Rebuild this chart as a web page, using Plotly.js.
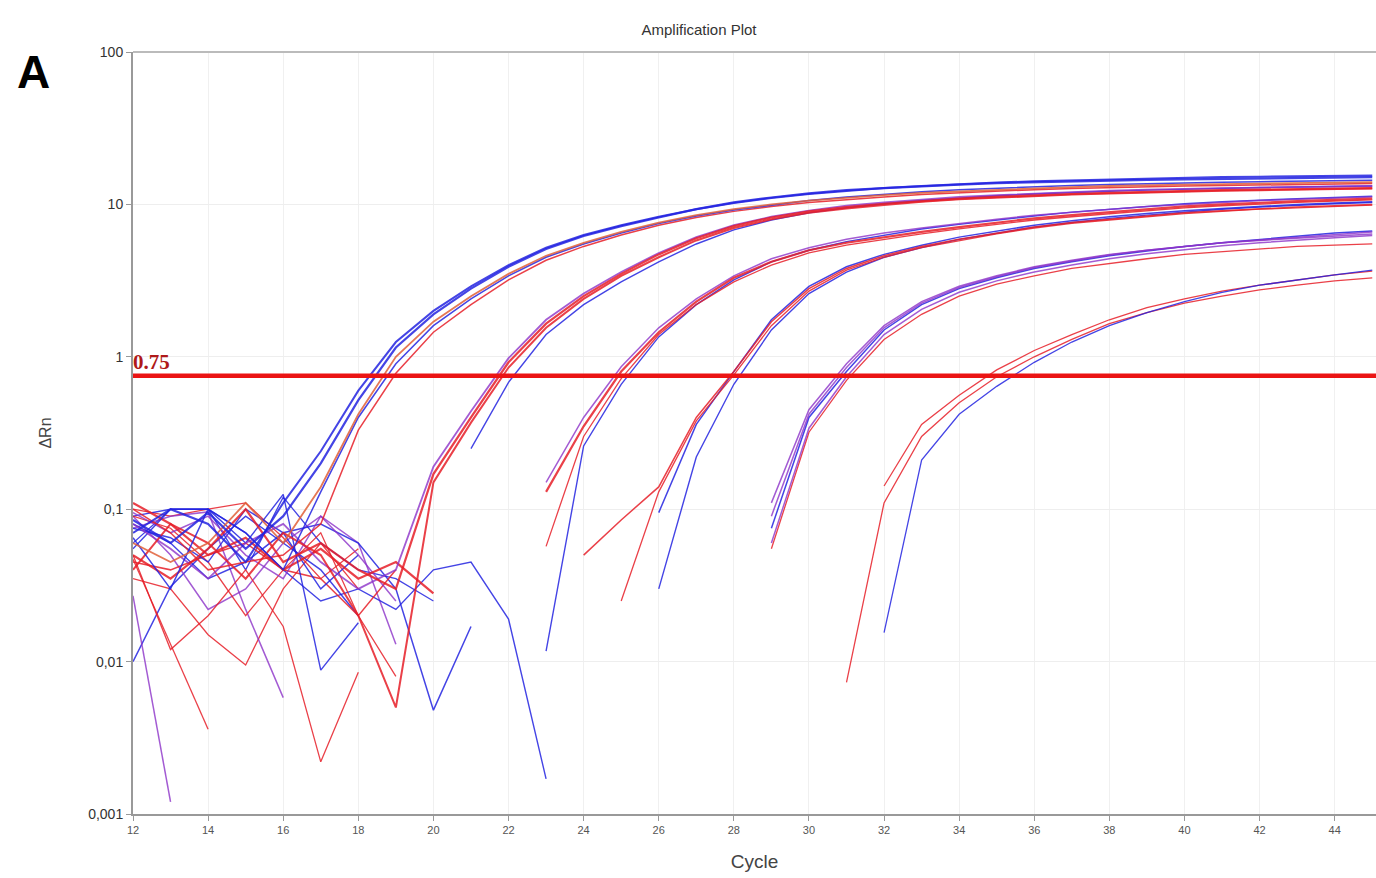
<!DOCTYPE html>
<html>
<head>
<meta charset="utf-8">
<script src="https://cdn.plot.ly/plotly-3.0.1.min.js"></script>
<style>html,body{margin:0;padding:0;background:#fff;}#chart{width:1376px;height:878px;}</style>
</head>
<body>
<div id="chart"></div>
<script>
// ---------- data ----------
const cycles = [12,13,14,15,16,17,18,19,20,21,22,23,24,25,26,27,28,29,30,31,32,33,34,35,36,37,38,39,40,41,42,43,44,45];
const threshold = 0.75;
const yTickVals = [0.001, 0.01, 0.1, 1, 10, 100];
const yTickText = ['0,001', '0,01', '0,1', '1', '10', '100'];
const xTickVals = [12,14,16,18,20,22,24,26,28,30,32,34,36,38,40,42,44];
const _ = null;

// group 1 (Ct ~18.5)
const g1b1 = [0.085,0.06,0.095,0.055,0.09,0.2,0.52,1.15,1.9, 2.8,3.9,5.1,6.2,7.2,8.2,9.3,10.3,11.1,11.8, 12.4,12.8,13.2,13.5,13.8,14.0,14.2,14.4,14.5,14.6,14.7,14.8,14.9,15.0,15.1];
const g1b2 = [0.07,0.1,0.08,0.045,0.11,0.24,0.6,1.25,2.0, 2.9,4.0,5.2,6.3,7.3,8.3,9.3,10.2,11.0,11.7, 12.3,12.8,13.2,13.6,13.9,14.2,14.4,14.6,14.8,15.0,15.1,15.2,15.3,15.4,15.5];
const g1b3 = [0.065,0.03,0.1,0.07,0.04,0.13,0.4,0.9,1.6, 2.4,3.4,4.5,5.5,6.5,7.5,8.4,9.2,9.9,10.6, 11.2,11.7,12.1,12.5,12.8,13.1,13.3,13.5,13.7,13.9,14.0,14.1,14.2,14.3,14.4];
const g1r1 = [0.06,0.045,0.06,0.11,0.06,0.14,0.42,1.0,1.7, 2.5,3.5,4.6,5.6,6.6,7.6,8.5,9.3,10.0,10.6, 11.1,11.5,11.9,12.2,12.5,12.8,13.0,13.2,13.4,13.5,13.6,13.7,13.8,13.9,14.0];
const g1r2 = [0.1,0.07,0.04,0.045,0.05,0.08,0.33,0.78,1.45, 2.2,3.2,4.3,5.3,6.3,7.3,8.2,9.0,9.7,10.3, 10.8,11.2,11.6,11.9,12.2,12.5,12.7,12.9,13.1,13.2,13.3,13.4,13.5,13.6,13.7];
// group 2 (Ct ~21.8)
const g2r1 = [0.05,0.035,0.055,0.1,0.045,0.06,0.04,0.03,0.17, 0.4,0.92,1.65,2.5,3.5,4.7,6.0,7.2,8.2,9.0, 9.6,10.1,10.5,10.9,11.2,11.5,11.7,11.9,12.1,12.3,12.4,12.5,12.6,12.7,12.8];
const g2r2 = [0.04,0.08,0.06,0.035,0.07,0.05,0.02,0.005,0.15, 0.37,0.85,1.55,2.4,3.4,4.5,5.8,7.0,8.0,8.8, 9.4,9.9,10.4,10.8,11.1,11.4,11.6,11.8,12.0,12.2,12.3,12.4,12.5,12.6,12.7];
const g2p1 = [0.08,0.055,0.035,0.06,0.08,0.045,0.03,0.04,0.19, 0.44,0.98,1.75,2.6,3.6,4.8,6.1,7.3,8.3,9.1, 9.8,10.3,10.8,11.2,11.5,11.8,12.1,12.3,12.5,12.7,12.8,12.9,13.0,13.1,13.2];
const g2b1 = [0.055,0.1,0.1,0.06,0.125,0.0088,0.018,_,_, 0.25,0.68,1.4,2.2,3.1,4.2,5.5,6.8,7.9,8.8, 9.5,10.1,10.6,11.0,11.4,11.7,12.0,12.2,12.4,12.6,12.8,12.9,13.0,13.1,13.2];
// group 3 (Ct ~25)
const g3r1 = [0.11,0.08,0.05,0.065,0.04,0.055,0.035,0.045,0.028, _,_,0.13,0.35,0.8,1.45,2.3,3.3,4.2,5.0, 5.6,6.1,6.6,7.1,7.6,8.1,8.5,8.9,9.3,9.7,10.0,10.3,10.5,10.7,10.9];
const g3r2 = [0.05,0.012,0.02,0.04,0.017,0.0022,0.0085,_,_, _,_,0.057,0.3,0.72,1.4,2.2,3.1,4.0,4.8, 5.4,5.9,6.4,6.9,7.4,7.9,8.3,8.7,9.1,9.5,9.8,10.1,10.3,10.5,10.7];
const g3b1 = [0.075,0.065,0.045,0.1,0.07,0.03,0.05,_,_, _,_,0.0117,0.26,0.66,1.35,2.2,3.2,4.2,5.0, 5.7,6.3,6.9,7.4,7.9,8.4,8.9,9.3,9.7,10.1,10.4,10.7,10.9,11.1,11.3];
const g3b2 = [0.095,0.07,0.09,0.05,0.035,0.09,0.05,0.025,_, _,_,0.15,0.4,0.86,1.55,2.4,3.4,4.4,5.2, 5.9,6.5,7.0,7.5,8.0,8.5,8.9,9.3,9.7,10.0,10.3,10.6,10.8,11.0,11.2];
// group 4 (Ct ~28)
const g4b1 = [0.09,0.1,0.1,0.07,0.04,0.025,0.03,0.022,0.04, 0.045,0.019,0.0017,_,_,0.03,0.22,0.66,1.5,2.6, 3.6,4.5,5.2,5.9,6.5,7.1,7.6,8.1,8.5,8.9,9.3,9.6,9.9,10.1,10.3];
const g4b2 = [0.08,0.06,0.035,0.045,0.07,0.08,0.06,0.03,0.0048, 0.017,_,_,_,_,0.095,0.36,0.8,1.75,2.9, 3.9,4.7,5.4,6.1,6.7,7.3,7.8,8.3,8.7,9.1,9.4,9.7,10.0,10.2,10.4];
const g4r1 = [0.045,0.04,0.05,0.06,0.04,0.035,0.02,0.04,_, _,_,_,0.05,0.085,0.14,0.4,0.8,1.7,2.8, 3.8,4.6,5.3,5.9,6.5,7.1,7.6,8.0,8.4,8.8,9.1,9.4,9.6,9.8,10.0];
const g4r2 = [0.09,0.075,0.045,0.02,0.04,0.07,0.02,0.008,_, _,_,_,_,0.025,0.13,0.38,0.76,1.6,2.7, 3.7,4.5,5.2,5.8,6.4,7.0,7.5,7.9,8.3,8.7,9.0,9.3,9.5,9.7,9.9];
// group 5 (Ct ~31)
const g5b1 = [0.01,0.031,0.055,0.09,0.06,0.04,0.02,_,_, _,_,_,_,_,_,_,_,0.075,0.4, 0.8,1.5,2.2,2.8,3.3,3.8,4.2,4.6,4.95,5.3,5.6,5.9,6.2,6.5,6.7];
const g5p1 = [0.027,0.0012,_,_,_,_,_,_,_, _,_,_,_,_,_,_,_,0.09,0.42, 0.85,1.55,2.25,2.85,3.35,3.85,4.25,4.65,5.0,5.3,5.6,5.85,6.1,6.35,6.6];
const g5p2 = [0.075,0.09,0.096,0.022,0.0058,_,_,_,_, _,_,_,_,_,_,_,_,0.11,0.45, 0.9,1.6,2.3,2.9,3.4,3.9,4.3,4.7,5.0,5.3,5.6,5.8,6.0,6.2,6.4];
const g5r1 = [0.047,0.013,0.0036,_,_,_,_,_,_, _,_,_,_,_,_,_,_,0.055,0.32, 0.7,1.3,1.9,2.5,3.0,3.4,3.8,4.1,4.4,4.7,4.9,5.1,5.3,5.4,5.5];
const g5b2 = [0.09,0.05,0.022,0.03,0.06,0.09,0.06,0.013,_, _,_,_,_,_,_,_,_,0.06,0.34, 0.74,1.4,2.05,2.65,3.15,3.6,4.0,4.4,4.75,5.05,5.35,5.6,5.85,6.05,6.25];
// group 6 (Ct ~35)
const g6r1 = [0.035,0.03,0.015,0.0095,0.03,0.06,0.03,_,_, _,_,_,_,_,_,_,_,_,_, 0.0073,0.11,0.3,0.5,0.74,1.0,1.3,1.65,1.95,2.25,2.5,2.75,2.95,3.15,3.3];
const g6r2 = [0.1,0.09,0.1,0.11,0.065,0.035,0.055,_,_, _,_,_,_,_,_,_,_,_,_, _,0.142,0.36,0.56,0.82,1.1,1.4,1.75,2.1,2.4,2.7,2.95,3.2,3.45,3.65];
const g6b1 = [0.06,0.1,0.1,0.04,0.12,0.06,0.04,0.035,0.025, _,_,_,_,_,_,_,_,_,_, _,0.0155,0.21,0.42,0.64,0.92,1.25,1.6,1.95,2.3,2.65,2.95,3.2,3.45,3.7];

// ---------- styling ----------
const COL = {
  b: 'rgba(35,35,225,0.85)',
  r: 'rgba(230,30,40,0.85)',
  p: 'rgba(140,50,200,0.8)',
  o: 'rgba(225,95,55,0.85)'
};
const series = [
  [g6r1,'r',1.3],[g6r2,'r',1.3],[g6b1,'b',1.3],
  [g5b1,'b',1.5],[g5p1,'p',1.5],[g5p2,'p',1.5],[g5r1,'r',1.3],[g5b2,'p',1.5],
  [g4b1,'b',1.4],[g4b2,'b',1.5],[g4r1,'r',1.5],[g4r2,'r',1.3],
  [g3b1,'b',1.4],[g3b2,'p',1.5],[g3r2,'r',1.3],[g3r1,'r',2.2],
  [g2b1,'b',1.4],[g2p1,'p',1.8],[g2r2,'r',2.0],[g2r1,'r',2.2],
  [g1r2,'r',1.5],[g1b3,'b',1.5],[g1r1,'o',1.8],[g1b2,'b',2.0],[g1b1,'b',2.2]
];

const traces = series.map(([y, c, w]) => ({
  x: cycles, y: y, type: 'scatter', mode: 'lines',
  line: {color: COL[c], width: w}, connectgaps: false,
  hoverinfo: 'skip', showlegend: false
}));
traces.push({
  x: [cycles[0], cycles[cycles.length - 1] + 0.1], y: [threshold, threshold],
  type: 'scatter', mode: 'lines', line: {color: 'rgb(235,20,20)', width: 4.5},
  hoverinfo: 'skip', showlegend: false
});

const layout = {
  width: 1376, height: 878,
  margin: {l: 133, r: 0, t: 52, b: 64},
  paper_bgcolor: '#ffffff', plot_bgcolor: '#ffffff',
  font: {family: 'Liberation Sans, Arial, sans-serif', color: '#333'},
  title: {text: 'Amplification Plot', font: {size: 15, color: '#333'}, x: 0.508, xanchor: 'center', y: 0.966, yanchor: 'middle'},
  xaxis: {
    range: [12, 45.1], tickvals: xTickVals, ticks: 'outside', ticklen: 5, tickcolor: '#999',
    tickfont: {size: 11, color: '#555'}, showline: true, linecolor: '#999', linewidth: 2,
    mirror: false, gridcolor: '#f0f0f0', zeroline: false,
    title: {text: 'Cycle', font: {size: 19, color: '#444'}, standoff: 19}
  },
  yaxis: {
    type: 'log', range: [-3, 2], tickvals: yTickVals, ticktext: yTickText,
    ticks: 'outside', ticklen: 5, tickcolor: '#999', tickfont: {size: 14, color: '#333'},
    showline: true, linecolor: '#999', linewidth: 2, gridcolor: '#eeeeee', zeroline: false,
    title: {text: 'ΔRn', font: {size: 16, color: '#444'}, standoff: 33}
  },
  shapes: [{type: 'line', xref: 'paper', yref: 'paper', x0: 0, x1: 1, y0: 1, y1: 1, line: {color: '#bbb', width: 2}}],
  annotations: [
    {text: 'A', xref: 'paper', yref: 'paper', x: (33 - 133) / 1243, y: 1 + (52 - 72) / 762,
     xanchor: 'center', yanchor: 'middle', showarrow: false,
     font: {family: 'Liberation Sans, Arial, sans-serif', size: 46, color: '#000', weight: 'bold'}},
    {text: '<b>0.75</b>', xref: 'x', yref: 'y', x: 12, y: Math.log10(threshold),
     xanchor: 'left', yanchor: 'bottom', yshift: 0, xshift: -2, showarrow: false,
     font: {family: 'Liberation Serif, Times New Roman, serif', size: 21, color: 'rgb(175,25,25)'}}
  ]
};

Plotly.newPlot('chart', traces, layout, {displayModeBar: false, staticPlot: true});
</script>
</body>
</html>
